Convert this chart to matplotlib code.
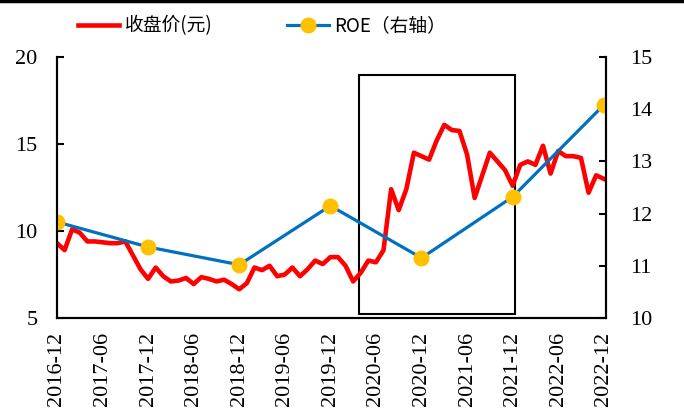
import matplotlib
matplotlib.use("Agg")
import matplotlib.pyplot as plt
from matplotlib.patches import Rectangle
from matplotlib.lines import Line2D

plt.rcParams['font.family'] = ['Liberation Serif', 'DejaVu Serif']

# monthly close price, 2016-12 .. 2022-12
price = [9.3, 8.9, 10.1, 9.9, 9.4, 9.4, 9.35, 9.3, 9.3, 9.4,
         8.6, 7.8, 7.25, 7.9, 7.4, 7.1, 7.15, 7.3, 6.95, 7.35,
         7.25, 7.1, 7.2, 6.95, 6.65, 7.0, 7.9, 7.75, 8.0, 7.4,
         7.5, 7.9, 7.4, 7.8, 8.3, 8.1, 8.5, 8.5, 8.0, 7.1,
         7.6, 8.3, 8.2, 8.9, 12.4, 11.2, 12.4, 14.5, 14.3, 14.1,
         15.2, 16.1, 15.8, 15.75, 14.4, 11.9, 13.2, 14.5, 14.0, 13.5,
         12.6, 13.8, 14.0, 13.8, 14.9, 13.3, 14.6, 14.3, 14.3, 14.2,
         12.2, 13.2, 13.0]

# yearly ROE (right axis), at each December
roe_idx = [0, 12, 24, 36, 48, 60, 72]
roe = [11.84, 11.36, 11.02, 12.15, 11.15, 12.32, 14.08]

tick_idx = list(range(0, 73, 6))
tick_labels = ['2016-12', '2017-06', '2017-12', '2018-06', '2018-12', '2019-06',
               '2019-12', '2020-06', '2020-12', '2021-06', '2021-12', '2022-06',
               '2022-12']

fig = plt.figure(figsize=(6.84, 4.16), dpi=100)
ax = fig.add_axes([0.0833, 0.2356, 0.8027, 0.6274])
ax2 = ax.twinx()

ax.plot(range(len(price)), price, color='#FF0000', lw=3.3, solid_joinstyle='round')
ax2.plot(roe_idx, roe, color='#0070C0', lw=2.3, marker='o', ms=10.5,
         markerfacecolor='#FFC000', markeredgecolor='#FFC000')

ax.set_xlim(0, 72.3)
ax.set_ylim(5, 20)
ax.set_yticks([5, 10, 15, 20])
ax2.set_ylim(10, 15)
ax2.set_yticks([10, 11, 12, 13, 14, 15])

ax.set_xticks(tick_idx)
ax.set_xticklabels(tick_labels, rotation=90, fontsize=16)
ax.tick_params(axis='x', length=0, pad=10)
ax.tick_params(axis='y', direction='in', length=5, width=1.5, labelsize=16, pad=14)
ax2.tick_params(axis='y', direction='in', length=5, width=1.5, labelsize=16, pad=17)

for a in (ax, ax2):
    a.spines['top'].set_visible(False)
    for s in ('left', 'right', 'bottom'):
        a.spines[s].set_linewidth(1.5)

# highlight box
ax.add_patch(Rectangle((39.8, 5.23), 20.5, 13.74, fill=False,
                       edgecolor='black', lw=1.5, zorder=1))

# thin frame line at top of picture
fig.add_artist(Line2D([0, 1], [0.997, 0.997], color='black', lw=2.5,
                      transform=fig.transFigure))

handles = [Line2D([], [], color='#FF0000', lw=3.3),
           Line2D([], [], color='#0070C0', lw=2.3, marker='o', ms=10.5,
                  markerfacecolor='#FFC000', markeredgecolor='#FFC000')]
fig.legend(handles, ['收盘价(元)', 'ROE（右轴）'], loc='center',
           bbox_to_anchor=(0.383, 0.938), ncol=2, frameon=False,
           prop={'family': ['Noto Sans CJK SC', 'DejaVu Sans'], 'size': 13.5},
           handlelength=2.2, handletextpad=0.3, columnspacing=4.0)

fig.savefig('out.png', dpi=100)
